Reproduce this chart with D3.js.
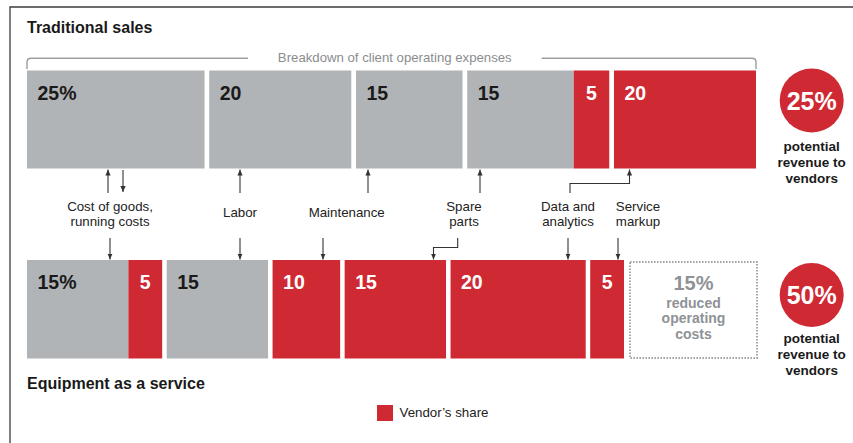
<!DOCTYPE html>
<html>
<head>
<meta charset="utf-8">
<script src="https://cdn.jsdelivr.net/npm/d3@7"></script>
<style>
  html, body { margin: 0; padding: 0; background: #fff; }
  svg { display: block; font-family: "Liberation Sans", Arial, Helvetica, sans-serif; }
</style>
</head>
<body>
<svg id="chart" width="853" height="443"></svg>
<script>
// Shares of client operating expenses (percent)
const topCategories = ["Cost of goods, running costs", "Labor", "Maintenance", "Spare parts", "Data and analytics", "Service markup"];
const topValues = [25, 20, 15, 15, 5, 20];
const topLabels = ["25%", "20", "15", "15", "5", "20"];
const topVendor = [false, false, false, false, true, true];
const topJoined = [false, false, false, false, true, false]; // segment sits flush to previous one

const bottomCategories = ["Cost of goods", "Running costs", "Labor", "Maintenance", "Spare parts", "Data and analytics", "Service markup"];
const bottomValues = [15, 5, 15, 10, 15, 20, 5];
const bottomLabels = ["15%", "5", "15", "10", "15", "20", "5"];
const bottomVendor = [false, true, false, true, true, true, true];
const bottomJoined = [false, true, false, false, false, false, false];

const reducedValue = 15;
const reducedLines = ["reduced", "operating", "costs"];

const revenueShares = ["25%", "50%"];
const revenueCaption = ["potential", "revenue to", "vendors"];

const RED = "#cf2a33", GREY = "#b1b4b6", INK = "#1a1a1a", SOFT = "#8e9296";

const svg = d3.select("#chart");

// frame (top and left rules)
svg.append("path").attr("d", "M10,443V7H853").attr("fill", "none")
  .attr("stroke", "#3c3c3c").attr("stroke-width", 1.3);

svg.append("defs").append("marker")
  .attr("id", "head").attr("viewBox", "0 0 6 6").attr("refX", 6).attr("refY", 3)
  .attr("markerWidth", 6).attr("markerHeight", 6).attr("markerUnits", "userSpaceOnUse")
  .attr("orient", "auto")
  .append("path").attr("d", "M0,0.4L6,3L0,5.6Z").attr("fill", "#333");

// lay a row of segments out along a linear scale, with small gaps between groups
function layoutRow(values, joined, x0, x1, gap) {
  const gaps = joined.filter((j, i) => i > 0 && !j).length;
  const x = d3.scaleLinear().domain([0, d3.sum(values)]).range([0, x1 - x0 - gaps * gap]);
  let pos = x0, out = [];
  values.forEach((v, i) => {
    if (i > 0 && !joined[i]) pos += gap;
    const w = x(v);
    out.push({ x: pos, w: w });
    pos += w;
  });
  return out;
}

function drawRow(values, labels, vendor, joined, x0, x1, gap, y0, h, labelBase) {
  const cells = layoutRow(values, joined, x0, x1, gap).map((c, i) => ({
    ...c, v: values[i], label: labels[i], vendor: vendor[i]
  }));
  const g = svg.append("g");
  g.selectAll("rect").data(cells).join("rect")
    .attr("x", d => d.x).attr("y", y0).attr("width", d => d.w).attr("height", h)
    .attr("fill", d => d.vendor ? RED : GREY);
  g.selectAll("text").data(cells).join("text")
    .attr("x", d => d.w < 50 ? d.x + d.w / 2 : d.x + 10.5)
    .attr("text-anchor", d => d.w < 50 ? "middle" : "start")
    .attr("y", labelBase)
    .attr("font-size", 19.5).attr("font-weight", "bold")
    .attr("fill", d => d.vendor ? "#fff" : INK)
    .text(d => d.label);
  return cells;
}

// titles
svg.append("text").attr("x", 27).attr("y", 33).attr("font-size", 16).attr("font-weight", "bold")
  .attr("fill", INK).text("Traditional sales");
svg.append("text").attr("x", 27).attr("y", 389).attr("font-size", 16).attr("font-weight", "bold")
  .attr("fill", INK).text("Equipment as a service");

// bracket over the traditional breakdown
svg.append("path")
  .attr("d", "M27,69V62Q27,58.3 31,58.3H248M541.7,58.3H752Q756,58.3 756,62V69")
  .attr("fill", "none").attr("stroke", "#9b9ea1").attr("stroke-width", 1.4);
svg.append("text").attr("x", 394.8).attr("y", 62).attr("text-anchor", "middle")
  .attr("font-size", 13.2).attr("fill", "#8a8d90").text("Breakdown of client operating expenses");

// the two rows of bars
drawRow(topValues, topLabels, topVendor, topJoined, 27, 756, 4.7, 70.5, 98, 100);
drawRow(bottomValues, bottomLabels, bottomVendor, bottomJoined, 27, 624, 4.5, 260, 98.5, 289);

// freed-up share shown as an empty dotted box
svg.append("rect").attr("x", 630).attr("y", 262).attr("width", 127).attr("height", 96)
  .attr("fill", "none").attr("stroke", "#a3a7ab").attr("stroke-width", 2)
  .attr("stroke-dasharray", "1.6,1.4");
svg.append("text").attr("x", 693.5).attr("y", 289.5).attr("text-anchor", "middle")
  .attr("font-size", 20).attr("font-weight", "bold").attr("fill", SOFT).text(reducedValue + "%");
svg.append("g").selectAll("text").data(reducedLines).join("text")
  .attr("x", 693.5).attr("y", (d, i) => 307.5 + i * 15.5).attr("text-anchor", "middle")
  .attr("font-size", 14).attr("font-weight", "bold").attr("fill", SOFT).text(d => d);

// connector annotations between the rows
const notes = [
  { lines: ["Cost of goods,", "running costs"], x: 110 },
  { lines: ["Labor"], x: 240 },
  { lines: ["Maintenance"], x: 346.7 },
  { lines: ["Spare", "parts"], x: 464 },
  { lines: ["Data and", "analytics"], x: 568 },
  { lines: ["Service", "markup"], x: 638 }
];
notes.forEach(n => {
  const base = n.lines.length === 1 ? 217 : 210.5;
  svg.append("g").selectAll("text").data(n.lines).join("text")
    .attr("x", n.x).attr("y", (d, i) => base + i * 15).attr("text-anchor", "middle")
    .attr("font-size", 13.3).attr("fill", "#222").text(d => d);
});

const arrows = [
  "M108,193V169.5", "M123,170V192", "M240,193V169.5", "M368,193V169.5", "M480,193V169.5",
  "M570,193V183.5H629.5V169.5",
  "M110,238V259.5", "M240,238V259.5", "M323,238V259.5",
  "M457.7,238V247.5H433.5V259.5", "M568,238V259.5", "M618,238V259.5"
];
svg.append("g").selectAll("path").data(arrows).join("path")
  .attr("d", d => d).attr("fill", "none").attr("stroke", "#333").attr("stroke-width", 1.1)
  .attr("marker-end", "url(#head)");

// revenue circles
const circleY = [100.5, 295];
const captionBase = [151, 343];
revenueShares.forEach((s, i) => {
  svg.append("circle").attr("cx", 811.7).attr("cy", circleY[i]).attr("r", 32).attr("fill", RED);
  svg.append("text").attr("x", 811.7).attr("y", circleY[i] + 9).attr("text-anchor", "middle")
    .attr("font-size", 25).attr("font-weight", "bold").attr("fill", "#fff").text(s);
  svg.append("g").selectAll("text").data(revenueCaption).join("text")
    .attr("x", 811.7).attr("y", (d, k) => captionBase[i] + k * 16).attr("text-anchor", "middle")
    .attr("font-size", 13.5).attr("font-weight", "bold").attr("fill", INK).text(d => d);
});

// legend
svg.append("rect").attr("x", 377).attr("y", 405).attr("width", 16).attr("height", 16).attr("fill", RED);
svg.append("text").attr("x", 399.5).attr("y", 417).attr("font-size", 13.3).attr("fill", "#222")
  .text("Vendor\u2019s share");
</script>
</body>
</html>
